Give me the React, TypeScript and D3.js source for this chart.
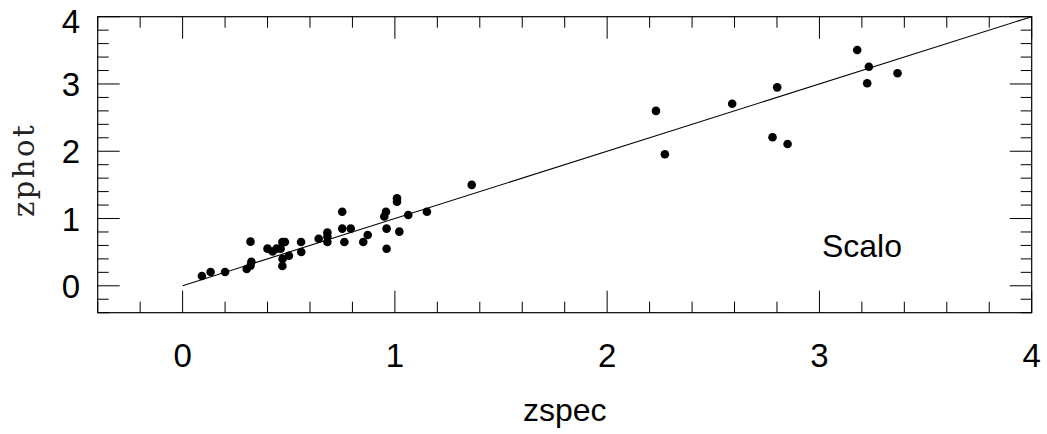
import React from "react";
import * as d3 from "d3";

const zspec = [
  0.091, 0.132, 0.2, 0.302, 0.32, 0.324, 0.32, 0.4, 0.424, 0.443, 0.462, 0.47, 0.482, 0.471, 0.47, 0.501,
  0.558, 0.559, 0.641, 0.682, 0.682, 0.682, 0.752, 0.752, 0.762, 0.792, 0.851, 0.872, 0.95, 0.958, 0.961,
  0.961, 1.01, 1.01, 1.021, 1.063, 1.151, 1.362, 2.23, 2.272, 2.589, 2.801, 2.779, 2.85, 3.178, 3.233,
  3.225, 3.368,
];
const zphot = [
  0.146, 0.205, 0.205, 0.25, 0.3, 0.358, 0.656, 0.552, 0.51, 0.552, 0.552, 0.65, 0.65, 0.4, 0.295, 0.447,
  0.65, 0.502, 0.7, 0.79, 0.73, 0.65, 1.1, 0.85, 0.65, 0.85, 0.65, 0.755, 1.03, 1.1, 0.85, 0.55, 1.3,
  1.25, 0.805, 1.052, 1.1, 1.5, 2.6, 1.955, 2.707, 2.95, 2.207, 2.108, 3.505, 3.257, 3.01, 3.159,
];
const xTickLabels = ["0", "1", "2", "3", "4"];
const yTickLabels = ["0", "1", "2", "3", "4"];
const oneToOne = [0, 4];
const domainMin = -0.4;
const domainMax = 4;
const sampleLabel = "Scalo";

export default function App() {
  const W = 1047;
  const H = 434;
  const L = 97.7, R = 1031.7, T = 16.7, B = 312.7;
  const x = d3.scaleLinear().domain([domainMin, domainMax]).range([L, R]);
  const y = d3.scaleLinear().domain([domainMin, domainMax]).range([B, T]);
  const ticks = d3.range(-2, 21).map((i) => i * 0.2);
  const isMajor = (v: number) => Math.abs(v - Math.round(v)) < 1e-6;
  const major = 22, minor = 11;
  const line = d3.line<number>().x((d) => x(d)).y((d) => y(d));
  const font = "'Liberation Sans', Arial, Helvetica, sans-serif";
  return (
    <svg width={W} height={H} style={{ position: "absolute", left: 0, top: 0, background: "#fff" }}>
      <rect x={L} y={T} width={R - L} height={B - T} fill="none" stroke="#000" strokeWidth={1.2} />
      {ticks.map((v, i) => {
        const len = isMajor(v) ? major : minor;
        const px = x(v);
        const py = y(v);
        return (
          <g key={i} stroke="#000" strokeWidth={1}>
            <line x1={px} x2={px} y1={B} y2={B - len} />
            <line x1={px} x2={px} y1={T} y2={T + len} />
            <line x1={L} x2={L + len} y1={py} y2={py} />
            <line x1={R} x2={R - len} y1={py} y2={py} />
          </g>
        );
      })}
      {xTickLabels.map((t) => (
        <text key={"x" + t} x={x(+t)} y={367} textAnchor="middle" fontFamily={font} fontSize={33} fill="#000">
          {t}
        </text>
      ))}
      {yTickLabels.map((t) => (
        <text
          key={"y" + t}
          x={71}
          y={Math.max(y(+t), 21) + 12}
          textAnchor="middle"
          fontFamily={font}
          fontSize={33}
          fill="#000"
        >
          {t}
        </text>
      ))}
      <path d={line(oneToOne) || ""} fill="none" stroke="#000" strokeWidth={1.1} />
      {zspec.map((v, i) => (
        <circle key={i} cx={x(v)} cy={y(zphot[i])} r={4.3} fill="#000" />
      ))}
      <text x={862} y={257} textAnchor="middle" fontFamily={font} fontSize={32} fill="#000">
        {sampleLabel}
      </text>
      <text x={(L + R) / 2} y={421} textAnchor="middle" fontFamily={font} fontSize={32} fill="#000">
        zspec
      </text>
      <text
        transform={`translate(34, 170) rotate(-90)`}
        textAnchor="middle"
        style={{ fontFamily: "'DejaVu Serif', serif", letterSpacing: "2.5px" }}
        fontSize={29}
        fill="#222"
      >
        zphot
      </text>
    </svg>
  );
}
